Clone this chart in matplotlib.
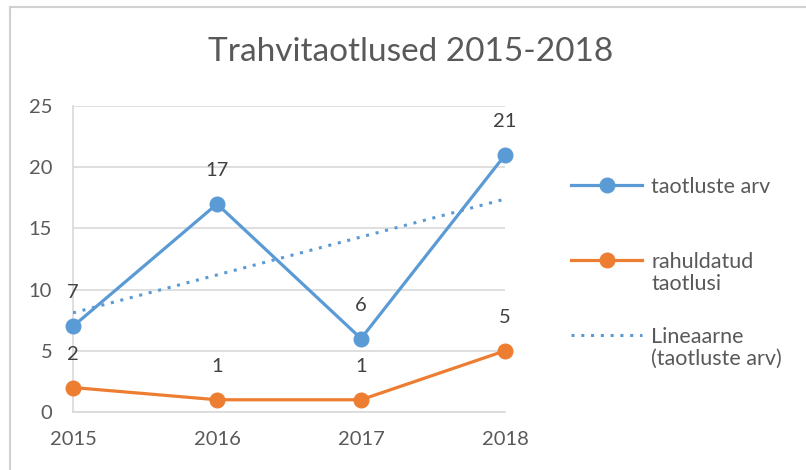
import numpy as np
import matplotlib.pyplot as plt
from matplotlib.lines import Line2D
from matplotlib.text import Annotation

years = ["2015", "2016", "2017", "2018"]
taotlused = [7, 17, 6, 21]
rahuldatud = [2, 1, 1, 5]

BLUE = "#5B9BD5"
ORANGE = "#ED7D31"
TXT = "#595959"
GRID = "#D9D9D9"

plt.rcParams["font.family"] = ["Lato", "DejaVu Sans"]

fig = plt.figure(figsize=(8.06, 4.70), dpi=100)
ax = fig.add_axes([0.0906, 0.1234, 0.536, 0.651])

x = np.arange(len(years))
l1, = ax.plot(x, taotlused, color=BLUE, lw=2.3, marker="o", ms=10.5,
              clip_on=False, zorder=4)
l2, = ax.plot(x, rahuldatud, color=ORANGE, lw=2.3, marker="o", ms=10.5,
              clip_on=False, zorder=4)

# linear trend of taotluste arv
k, b = np.polyfit(x, taotlused, 1)
l3, = ax.plot(x, k * x + b, color=BLUE, lw=2.2, ls=(0, (1, 2.2)), zorder=3)

for series in (taotlused, rahuldatud):
    for xi, yi in zip(x, series):
        ax.annotate(str(yi), (xi, yi), xytext=(0, 24), textcoords="offset points",
                    ha="center", va="center", fontsize=14.5, color="#404040")

ax.set_xlim(0, 3)
ax.set_ylim(0, 25)
ax.set_yticks(range(0, 26, 5))
ax.set_xticks(x)
ax.set_xticklabels(years)
ax.tick_params(length=0, labelsize=14.5, labelcolor=TXT)
ax.tick_params(axis="y", pad=15)
ax.tick_params(axis="x", pad=14)
ax.grid(axis="y", color=GRID, lw=1.2)
ax.set_axisbelow(True)
for s in ["top", "right"]:
    ax.spines[s].set_visible(False)
for s in ["left", "bottom"]:
    ax.spines[s].set_color(GRID)
    ax.spines[s].set_linewidth(1.2)

fig.text(0.509, 0.889, "Trahvitaotlused 2015-2018", ha="center", va="center",
         fontsize=24, color=TXT)

# legend: handle sits on the first line of each label, like in Excel
leg = fig.legend(handles=[l1, l2, l3],
                 labels=["taotluste arv", "rahuldatud", "Lineaarne"],
                 loc="upper left", bbox_to_anchor=(0.709, 0.624),
                 borderaxespad=0, borderpad=0, frameon=False,
                 fontsize=15.5, labelcolor=TXT, handlelength=3.3,
                 labelspacing=2.55, handletextpad=0.4)
texts = leg.get_texts()
for t, extra in [(texts[1], "taotlusi"), (texts[2], "(taotluste arv)")]:
    fig.add_artist(Annotation(
        extra, xy=(0, 0), xycoords=t, xytext=(0, -1.5),
        textcoords="offset points", ha="left", va="top",
        fontsize=15.5, color=TXT, zorder=10))

# outer chart border (left and top only visible)
fig.add_artist(Line2D([0.0124, 0.0124], [0, 0.985], transform=fig.transFigure,
                      color="#D0D0D0", lw=1.5))
fig.add_artist(Line2D([0.0124, 1.0], [0.985, 0.985], transform=fig.transFigure,
                      color="#D0D0D0", lw=1.5))

fig.savefig("out.png", dpi=100)
